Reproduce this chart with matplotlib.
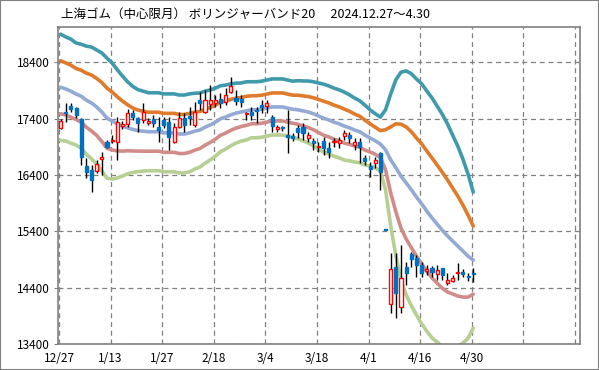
import numpy as np
import matplotlib.pyplot as plt
from matplotlib.patches import Rectangle

plt.rcParams['font.family'] = ['Noto Sans CJK JP', 'DejaVu Sans']

# 日足 (12/27 ~ 4/30, 81本)
opens = [17240, 17520, 17630, 17590, 17400, 16560, 16490, 16470, 16690, 16990,
         17000, 16990, 17270, 17310, 17500, 17410, 17380, 17330, 17400, 17250,
         17380, 17340, 16990, 17250, 17410, 17450, 17290, 17730, 17520, 17660,
         17680, 17750, 17700, 17880, 17770, 17750, 17490, 17520, 17560, 17650,
         17630, 17430, 17220, 17250, 17110, 17090, 17240, 17250, 17060, 17010,
         16900, 17010, 16880, 16990, 16970, 17090, 17110, 16930, 16990, 16700,
         16560, 16610, 16790, 15450, 14110, 14770, 14060, 14770, 15000, 14930,
         14800, 14700, 14750, 14640, 14750, 14480, 14520, 14660, 14680, 14610,
         14660]
highs = [17400, 17680, 17680, 17610, 17410, 16700, 16580, 16670, 16810, 17020,
         17110, 17430, 17360, 17570, 17560, 17430, 17680, 17410, 17470, 17430,
         17430, 17430, 17330, 17520, 17500, 17610, 17700, 17880, 17910, 18000,
         17820, 17860, 17950, 18140, 17910, 17820, 17520, 17610, 17610, 17730,
         17730, 17470, 17290, 17270, 17560, 17150, 17290, 17330, 17170, 17060,
         16990, 17080, 16990, 17060, 17080, 17200, 17170, 17060, 17060, 16760,
         16630, 16720, 16810, 15450, 15020, 15020, 15160, 14860, 15030, 14980,
         14860, 14800, 14790, 14800, 14750, 14660, 14630, 14840, 14730, 14660,
         14750]
lows = [17220, 17340, 17520, 17410, 16580, 16350, 16100, 16440, 16400, 16880,
        16970, 16670, 17220, 17250, 17380, 17170, 17330, 17290, 17250, 16990,
        17240, 16850, 16970, 17240, 17170, 17290, 17250, 17560, 17500, 17560,
        17610, 17590, 17650, 17860, 17650, 17610, 17380, 17380, 17330, 17500,
        17500, 17170, 17170, 17180, 16790, 17010, 17060, 17020, 16990, 16850,
        16810, 16760, 16700, 16900, 16880, 17020, 16970, 16850, 16610, 16580,
        16370, 16530, 16140, 15430, 13950, 13860, 13950, 14450, 14770, 14590,
        14590, 14630, 14590, 14540, 14540, 14450, 14500, 14540, 14590, 14520,
        14500]
closes = [17360, 17500, 17570, 17470, 16720, 16450, 16310, 16600, 16720, 16900,
          17020, 17340, 17310, 17500, 17430, 17330, 17520, 17360, 17330, 17200,
          17290, 17080, 17250, 17410, 17290, 17410, 17520, 17680, 17730, 17730,
          17730, 17680, 17820, 17980, 17720, 17700, 17500, 17470, 17540, 17610,
          17680, 17270, 17250, 17230, 17080, 17060, 17170, 17150, 17110, 16970,
          16920, 16880, 16810, 17010, 17020, 17150, 17060, 16990, 16900, 16650,
          16510, 16670, 16450, 15430, 14730, 14310, 14570, 14660, 14910, 14800,
          14660, 14730, 14680, 14710, 14630, 14540, 14570, 14680, 14640, 14590,
          14640]

# 20日移動平均と標準偏差
ma20 = [17960, 17930, 17890, 17840, 17800, 17730, 17680, 17610, 17520, 17410,
        17360, 17310, 17270, 17240, 17210, 17190, 17180, 17170, 17170, 17170,
        17150, 17150, 17150, 17130, 17130, 17150, 17180, 17200, 17250, 17290,
        17340, 17400, 17430, 17470, 17500, 17520, 17540, 17560, 17560, 17570,
        17590, 17610, 17610, 17610, 17590, 17570, 17560, 17540, 17520, 17490,
        17450, 17410, 17380, 17340, 17310, 17270, 17240, 17200, 17170, 17110,
        17060, 17010, 16950, 16850, 16670, 16530, 16380, 16260, 16140, 16010,
        15890, 15760, 15640, 15530, 15420, 15320, 15230, 15140, 15050, 14960,
        14890]
sd20 = [471, 462, 462, 453, 462, 480, 497, 506, 524, 533,
        515, 480, 444, 408, 382, 364, 355, 346, 346, 346,
        346, 346, 346, 346, 346, 346, 337, 329, 320, 311,
        302, 293, 284, 275, 266, 258, 258, 249, 249, 249,
        249, 249, 249, 249, 249, 249, 258, 266, 275, 284,
        293, 302, 302, 302, 302, 302, 293, 284, 275, 266,
        249, 240, 240, 355, 586, 781, 924, 995, 1030, 1048,
        1066, 1066, 1066, 1048, 1030, 995, 941, 888, 817, 728,
        604]

tick_labels = ['12/27', '1/13', '1/27', '2/18', '3/4', '3/18', '4/1', '4/16', '4/30', '', '']

o = np.array(opens)
h = np.array(highs)
l = np.array(lows)
c = np.array(closes)
ma = np.array(ma20)
sd = np.array(sd20)
x = np.arange(len(o))

fig = plt.figure(figsize=(5.99, 3.70), dpi=100)
ax = fig.add_axes([58/599, 26/370, 522/599, 317/370])

# ボリンジャーバンド
bands = [(2, '#3f9aab'), (1, '#e07b2c'), (0, '#93aad4'), (-1, '#d18c8a'), (-2, '#b6cf93')]
for k, col in bands:
    ax.plot(x, ma + k * sd, color=col, lw=2.6, solid_capstyle='round', zorder=2)

# ローソク足
up = c >= o
ax.vlines(x, l, h, color='black', lw=1, zorder=3)
body_low = np.minimum(o, c)
body_h = np.maximum(np.abs(c - o), 12)
ax.bar(x[up], body_h[up], bottom=body_low[up], width=0.6,
       facecolor='white', edgecolor='#ff0000', lw=1, zorder=4)
ax.bar(x[~up], body_h[~up], bottom=body_low[~up], width=0.6,
       facecolor='#0070c0', edgecolor='#0070c0', lw=1, zorder=4)

ax.set_xlim(-0.5, 100.7)
ax.set_ylim(13400, 19030)
ax.set_yticks(np.arange(13400, 18401, 1000))
ax.set_xticks(np.arange(0, 101, 10) - 0.3)
ax.set_xticklabels(tick_labels)
ax.tick_params(labelsize=8.5, length=3, color='#808080', pad=3)
ax.tick_params(axis='x', length=0, pad=6)
ax.grid(True, color='#808080', linestyle=(0, (4, 3)), lw=0.9)
ax.set_axisbelow(True)
for s in ax.spines.values():
    s.set_color('#808080')
    s.set_linewidth(1.2)

fig.text(61/599, 1 - 14/370, '上海ゴム（中心限月） ボリンジャーバンド20　 2024.12.27～4.30',
         ha='left', va='center', fontsize=9)

fig.patches.append(Rectangle((0, 0), 1, 1, transform=fig.transFigure, fill=False,
                             edgecolor='#808080', lw=1.5))

fig.savefig('out.png', dpi=100)
